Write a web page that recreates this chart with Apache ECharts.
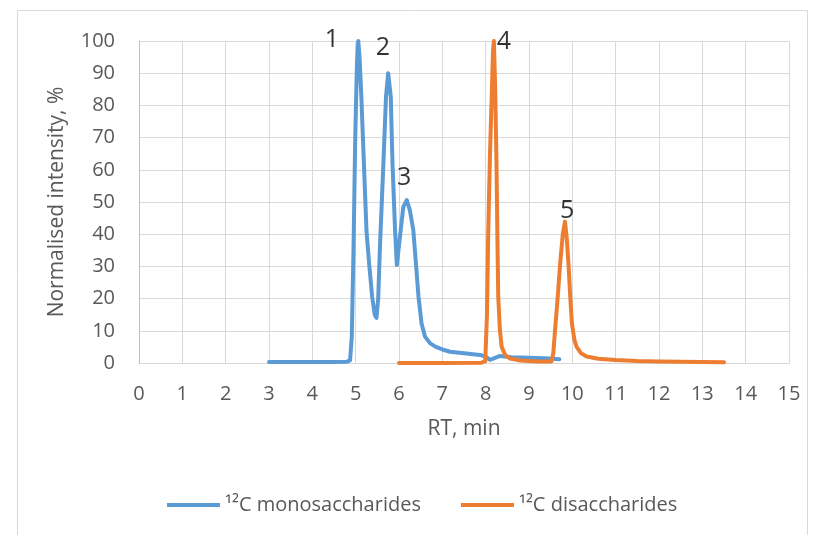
<!DOCTYPE html>
<html>
<head>
<meta charset="utf-8">
<script src="https://cdn.jsdelivr.net/npm/echarts@6/dist/echarts.min.js"></script>
<style>html,body{margin:0;padding:0;background:#fff}#c{width:820px;height:535px}</style>
</head>
<body>
<div id="c"></div>
<script>
// RT (min) and normalised intensity (%)
const monoRT = [3.0, 3.5, 4.0, 4.5, 4.8, 4.87, 4.91, 4.95, 4.99, 5.03, 5.06, 5.09, 5.13, 5.19, 5.25, 5.31, 5.38, 5.44, 5.48, 5.52, 5.56, 5.64, 5.70, 5.75, 5.81, 5.85, 5.91, 5.95, 6.02, 6.10, 6.18, 6.25, 6.33, 6.39, 6.45, 6.52, 6.60, 6.72, 6.85, 7.0, 7.18, 7.5, 7.87, 8.0, 8.1, 8.2, 8.33, 8.6, 9.0, 9.49, 9.7];
const monoI  = [0.3, 0.3, 0.3, 0.3, 0.4, 0.8, 8, 35, 70, 93, 100, 95, 83, 62, 41, 31, 20.6, 15, 14, 20, 36, 62, 82.7, 90, 82.7, 62, 41, 30.4, 39, 48.5, 50.6, 47.5, 41.3, 31, 20.6, 12.3, 8.2, 6.1, 5, 4.2, 3.5, 3, 2.5, 2, 1, 1.5, 2.2, 1.8, 1.6, 1.4, 1.2];
const diRT = [6.0, 7.0, 7.9, 7.99, 8.03, 8.06, 8.10, 8.14, 8.17, 8.19, 8.22, 8.25, 8.27, 8.29, 8.33, 8.37, 8.45, 8.56, 8.8, 9.2, 9.52, 9.56, 9.60, 9.66, 9.72, 9.78, 9.83, 9.87, 9.91, 9.95, 9.99, 10.05, 10.1, 10.2, 10.33, 10.6, 11.0, 11.5, 12.0, 12.5, 13.0, 13.5];
const diI  = [0, 0, 0.1, 0.5, 15, 41, 65, 83, 97, 100, 85, 62, 40, 20.6, 10, 5, 2.5, 1.4, 0.8, 0.5, 0.5, 3, 10, 20, 31, 40, 43.9, 39, 31, 21, 12.3, 7, 5, 3, 2, 1.3, 0.9, 0.6, 0.5, 0.4, 0.3, 0.2];
const peakLabels = ['1', '2', '3', '4', '5'];
const peakLabelRT = [4.45, 5.63, 6.12, 8.42, 9.88];
const peakLabelI  = [100.3, 97.8, 57.4, 99.7, 47.2];
const xTicks = [0, 15, 1];
const yTicks = [0, 100, 10];
const seriesNames = ['\u00B9\u00B2C monosaccharides', '\u00B9\u00B2C disaccharides'];

const pair = (xs, ys) => xs.map((x, i) => [x, ys[i]]);
const font = '"Open Sans", "Liberation Sans", sans-serif';
const chart = echarts.init(document.getElementById('c'), null, {renderer: 'canvas'});
chart.setOption({
  animation: false,
  backgroundColor: '#fff',
  graphic: [{type: 'rect', shape: {x: 17.5, y: 10.5, width: 790, height: 540}, style: {fill: 'none', stroke: '#d9d9d9', lineWidth: 1}, silent: true}],
  grid: {left: 139, right: 31, top: 41, bottom: 172},
  legend: {
    top: 490, left: 162, itemGap: 40, itemWidth: 53, itemHeight: 4, icon: 'rect',
    textStyle: {fontFamily: font, fontSize: 20, color: '#595959'},
    data: seriesNames
  },
  xAxis: {
    type: 'value', min: xTicks[0], max: xTicks[1], interval: xTicks[2],
    name: 'RT, min', nameLocation: 'middle', nameGap: 56,
    nameTextStyle: {fontFamily: font, fontSize: 21, color: '#595959'},
    axisLine: {show: true, lineStyle: {color: '#d9d9d9'}}, axisTick: {show: false},
    axisLabel: {fontFamily: font, fontSize: 20, color: '#595959', margin: 21},
    splitLine: {show: true, lineStyle: {color: '#d9d9d9', width: 1}}
  },
  yAxis: {
    type: 'value', min: yTicks[0], max: yTicks[1], interval: yTicks[2],
    name: 'Normalised intensity, %', nameLocation: 'middle', nameGap: 71,
    nameTextStyle: {fontFamily: font, fontSize: 21, color: '#595959'},
    axisLine: {show: true, lineStyle: {color: '#bfbfbf'}}, axisTick: {show: false},
    axisLabel: {fontFamily: font, fontSize: 20, color: '#595959', margin: 24},
    splitLine: {show: true, lineStyle: {color: '#d9d9d9', width: 1}}
  },
  series: [
    {name: seriesNames[0], type: 'line', data: pair(monoRT, monoI), showSymbol: false, symbol: 'none',
     lineStyle: {color: '#5B9BD5', width: 4, join: 'round', cap: 'round'}, itemStyle: {color: '#5B9BD5'}, z: 3},
    {name: seriesNames[1], type: 'line', data: pair(diRT, diI), showSymbol: false, symbol: 'none',
     lineStyle: {color: '#ED7D31', width: 4, join: 'round', cap: 'round'}, itemStyle: {color: '#ED7D31'}, z: 4},
    {name: 'labels', type: 'scatter', symbolSize: 1, clip: false, silent: true, z: 5,
     itemStyle: {color: 'rgba(0,0,0,0)'},
     data: peakLabels.map((t, i) => ({value: [peakLabelRT[i], peakLabelI[i]], name: t})),
     label: {show: true, position: 'inside', formatter: p => p.name, fontFamily: font, fontSize: 25, color: '#000'}}
  ]
});
</script>
</body>
</html>
